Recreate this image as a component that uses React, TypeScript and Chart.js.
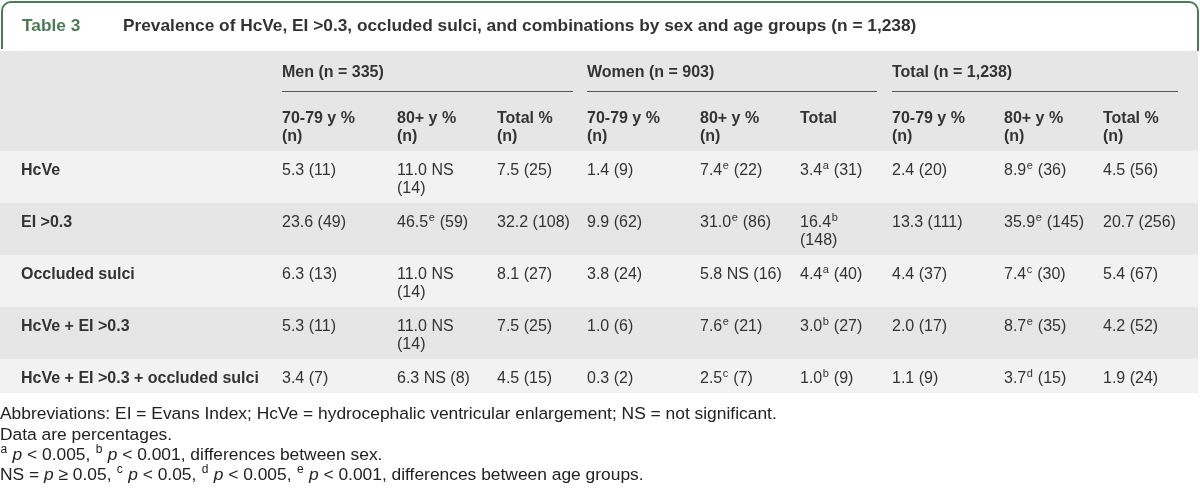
import React, { useEffect, useRef } from "react";
import { Chart, registerables } from "chart.js";

Chart.register(...registerables);

// ---------- data ----------
const tableNumber = "Table 3";
const tableTitle =
  "Prevalence of HcVe, EI >0.3, occluded sulci, and combinations by sex and age groups (n = 1,238)";
const groupHeaders = ["Men (n = 335)", "Women (n = 903)", "Total (n = 1,238)"];
const columnHeaders = [
  "70-79 y %|(n)",
  "80+ y %|(n)",
  "Total %|(n)",
  "70-79 y %|(n)",
  "80+ y %|(n)",
  "Total",
  "70-79 y %|(n)",
  "80+ y %|(n)",
  "Total %|(n)",
];
const rowLabels = [
  "HcVe",
  "EI >0.3",
  "Occluded sulci",
  "HcVe + EI >0.3",
  "HcVe + EI >0.3 + occluded sulci",
];
const hcveValues = ["5.3 (11)", "11.0 NS|(14)", "7.5 (25)", "1.4 (9)", "7.4^e (22)", "3.4^a (31)", "2.4 (20)", "8.9^e (36)", "4.5 (56)"];
const eiValues = ["23.6 (49)", "46.5^e (59)", "32.2 (108)", "9.9 (62)", "31.0^e (86)", "16.4^b|(148)", "13.3 (111)", "35.9^e (145)", "20.7 (256)"];
const occludedValues = ["6.3 (13)", "11.0 NS|(14)", "8.1 (27)", "3.8 (24)", "5.8 NS (16)", "4.4^a (40)", "4.4 (37)", "7.4^c (30)", "5.4 (67)"];
const hcveEiValues = ["5.3 (11)", "11.0 NS|(14)", "7.5 (25)", "1.0 (6)", "7.6^e (21)", "3.0^b (27)", "2.0 (17)", "8.7^e (35)", "4.2 (52)"];
const allThreeValues = ["3.4 (7)", "6.3 NS (8)", "4.5 (15)", "0.3 (2)", "2.5^c (7)", "1.0^b (9)", "1.1 (9)", "3.7^d (15)", "1.9 (24)"];
const footnotes = [
  "Abbreviations: EI = Evans Index; HcVe = hydrocephalic ventricular enlargement; NS = not significant.",
  "Data are percentages.",
  "^a *p* < 0.005, ^b *p* < 0.001, differences between sex.",
  "NS = *p* ≥ 0.05, ^c *p* < 0.05, ^d *p* < 0.005, ^e *p* < 0.001, differences between age groups.",
];

// ---------- layout / style ----------
const W = 1200;
const H = 497;
const FONT = '"Liberation Sans", Arial, sans-serif';
const GREEN = "#4d7a57";
const TEXT = "#333333";
const colX = [282, 397, 497, 587, 700, 800, 892, 1004, 1103];
const groupSpans = [
  [282, 573],
  [587, 877],
  [892, 1178],
];
const rowTops = [151, 203, 255, 307, 359];
const tableBottom = 393;
const footBaselines = [419, 440, 460, 480];

function drawRich(
  ctx: CanvasRenderingContext2D,
  text: string,
  x: number,
  y: number,
  size: number,
  weight: string,
  color: string
) {
  const re = /(\^[a-e])|(\*[^*]+\*)/g;
  const parts: { t: string; k: string }[] = [];
  let last = 0;
  let m: RegExpExecArray | null;
  while ((m = re.exec(text))) {
    if (m.index > last) parts.push({ t: text.slice(last, m.index), k: "n" });
    if (m[1]) parts.push({ t: m[1].slice(1), k: "s" });
    else parts.push({ t: m[2].slice(1, -1), k: "i" });
    last = re.lastIndex;
  }
  if (last < text.length) parts.push({ t: text.slice(last), k: "n" });
  ctx.fillStyle = color;
  ctx.textBaseline = "alphabetic";
  ctx.textAlign = "left";
  let cx = x;
  for (const p of parts) {
    if (p.k === "s") {
      ctx.font = `${weight} ${Math.round(size * 0.68)}px ${FONT}`;
      ctx.fillText(p.t, cx + 0.5, y - size * 0.4);
      cx += ctx.measureText(p.t).width + 1;
    } else {
      ctx.font = `${p.k === "i" ? "italic " : ""}${weight} ${size}px ${FONT}`;
      ctx.fillText(p.t, cx, y);
      cx += ctx.measureText(p.t).width;
    }
  }
}

const tablePlugin = {
  id: "tableRenderer",
  afterDraw(chart: any) {
    const ctx: CanvasRenderingContext2D = chart.ctx;
    ctx.save();
    ctx.fillStyle = "#ffffff";
    ctx.fillRect(0, 0, W, H);

    // title frame
    ctx.strokeStyle = GREEN;
    ctx.lineWidth = 2;
    ctx.beginPath();
    ctx.moveTo(2, 49);
    ctx.lineTo(2, 11);
    ctx.arcTo(2, 2, 11, 2, 9);
    ctx.lineTo(1189, 2);
    ctx.arcTo(1198, 2, 1198, 11, 9);
    ctx.lineTo(1198, 51);
    ctx.stroke();

    ctx.textBaseline = "alphabetic";
    ctx.font = `bold 17.3px ${FONT}`;
    ctx.fillStyle = GREEN;
    ctx.fillText(tableNumber, 22, 31);
    ctx.fillStyle = TEXT;
    ctx.fillText(tableTitle, 123, 31);

    // header background
    ctx.fillStyle = "#e6e6e6";
    ctx.fillRect(0, 51, 1198, rowTops[0] - 51);

    // row backgrounds
    const rows = [hcveValues, eiValues, occludedValues, hcveEiValues, allThreeValues];
    rows.forEach((_, i) => {
      const top = rowTops[i];
      const bottom = i + 1 < rowTops.length ? rowTops[i + 1] : tableBottom;
      ctx.fillStyle = i % 2 === 0 ? "#f2f2f2" : "#e6e6e6";
      ctx.fillRect(0, top, 1198, bottom - top);
    });

    // group headers
    groupHeaders.forEach((g, i) => {
      drawRich(ctx, g, groupSpans[i][0], 77, 16, "bold", TEXT);
      ctx.strokeStyle = "#555555";
      ctx.lineWidth = 1;
      ctx.beginPath();
      ctx.moveTo(groupSpans[i][0], 91.5);
      ctx.lineTo(groupSpans[i][1], 91.5);
      ctx.stroke();
    });

    // column headers
    columnHeaders.forEach((h, i) => {
      h.split("|").forEach((line, j) => {
        drawRich(ctx, line, colX[i], 123 + j * 18, 16, "bold", TEXT);
      });
    });

    // body
    rows.forEach((vals, r) => {
      const base = rowTops[r] + 24;
      drawRich(ctx, rowLabels[r], 21, base, 16, "bold", TEXT);
      vals.forEach((v, c) => {
        v.split("|").forEach((line, j) => {
          drawRich(ctx, line, colX[c], base + j * 18, 16, "normal", TEXT);
        });
      });
    });

    // footnotes
    footnotes.forEach((f, i) => {
      drawRich(ctx, f, 0, footBaselines[i], 17.4, "normal", "#222222");
    });
    ctx.restore();
  },
};

export default function App() {
  const ref = useRef<HTMLCanvasElement | null>(null);
  useEffect(() => {
    document.body.style.margin = "0";
    const canvas = ref.current;
    if (!canvas) return;
    const chart = new Chart(canvas, {
      type: "scatter",
      data: {
        labels: rowLabels,
        datasets: [],
      },
      options: {
        animation: false,
        responsive: false,
        devicePixelRatio: 1,
        layout: { padding: 0 },
        scales: {
          x: { display: false },
          y: { display: false },
        },
        plugins: {
          legend: { display: false },
          tooltip: { enabled: false },
          title: { display: false },
        },
      },
      plugins: [tablePlugin],
    });
    return () => chart.destroy();
  }, []);
  return (
    <div style={{ width: W, height: H, background: "#fff" }}>
      <canvas ref={ref} width={W} height={H} style={{ display: "block" }} />
    </div>
  );
}
